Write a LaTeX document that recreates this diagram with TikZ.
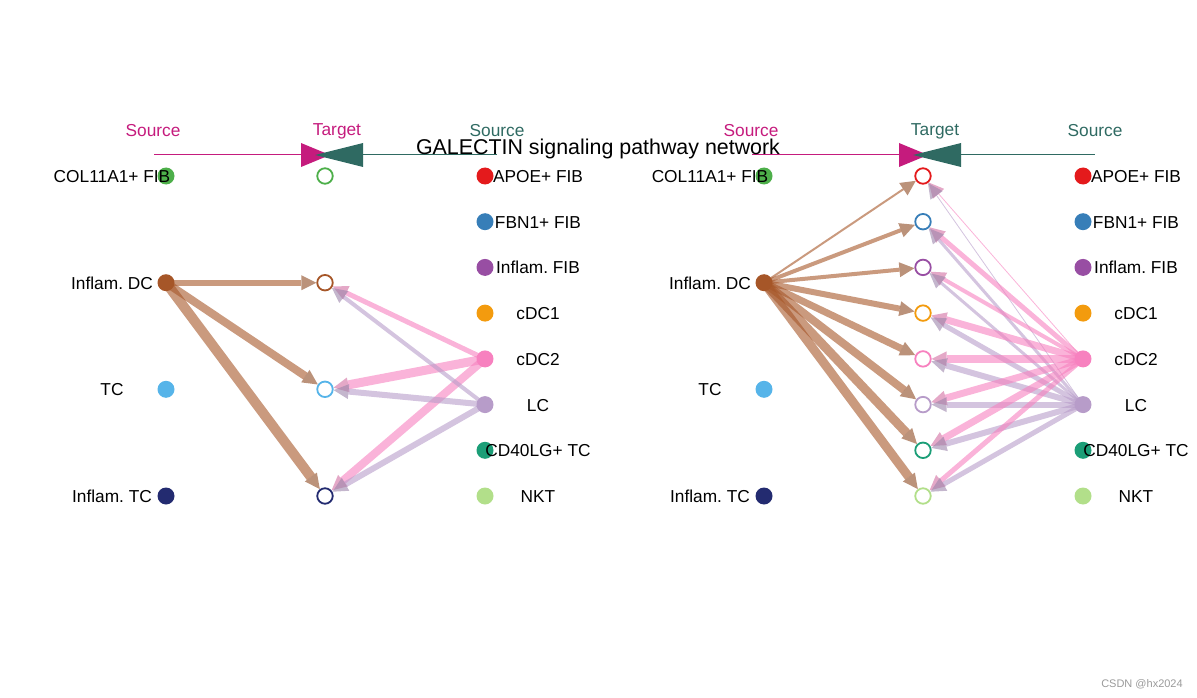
\documentclass[tikz,border=0pt]{standalone}
\usepackage{fontspec}
\setmainfont{Liberation Sans}
\usetikzlibrary{
  arrows.meta,
  backgrounds
}
\frenchspacing
\definecolor{srcmag}{HTML}{C51B7D}
\definecolor{tgtteal}{HTML}{2F6A62}
\definecolor{fibgreen}{HTML}{4DAF4A}
\definecolor{dcbrown}{HTML}{A65628}
\definecolor{tcblue}{HTML}{56B4E9}
\definecolor{itcnavy}{HTML}{232B70}
\definecolor{apoered}{HTML}{E41A1C}
\definecolor{fbnblue}{HTML}{377EB8}
\definecolor{ifibpurple}{HTML}{984EA3}
\definecolor{cdcaorange}{HTML}{F39B0E}
\definecolor{cdcbpink}{HTML}{F781BF}
\definecolor{lclilac}{HTML}{B79CC9}
\definecolor{cdgreen}{HTML}{1B9E77}
\definecolor{nktgreen}{HTML}{B2DF8A}
\definecolor{markgrey}{HTML}{9A9A9A}
% #1 name prefix, #2 colour of the Target head
\newcommand{\panelhead}[2]{%
  \draw[headline=srcmag] (154,155) -- (305,155);
  \draw[headline=tgtteal] (340,155) -- (497,155);
  \fill[srcmag] (301,143) -- (301,167) -- (330,155) -- cycle;
  \fill[tgtteal] (363,143) -- (363,167) -- (315,155) -- cycle;
  \node[headtext, text=srcmag] (#1srchead) at (153,137) {Source};
  \node[headtext, text=#2] (#1tgthead) at (337,136) {Target};
  \node[headtext, text=tgtteal] (#1rsrchead) at (497,137) {Source};
}
\tikzset{
  cell/.style={
    circle,
    fill=#1,
    minimum size=17pt,
    inner sep=0pt
  },
  tgtcell/.style={
    circle,
    draw=#1,
    fill=white,
    line width=1.8pt,
    minimum size=15.5pt,
    inner sep=0pt
  },
  celllabel/.style={
    anchor=base,
    inner sep=0pt,
    font=\fontsize{17.3}{20}\selectfont
  },
  headtext/.style={
    anchor=base,
    inner sep=0pt,
    font=\fontsize{17.3}{20}\selectfont
  },
  headline/.style={
    draw=#1,
    line width=1pt
  },
  link/.style={
    -{Triangle[length=15pt, width=15pt, line width=0pt, color=#1!85!black]},
    draw=#1,
    opacity=.6
  },
  titletext/.style={
    anchor=base,
    inner sep=0pt,
    font=\fontsize{21.4}{25}\selectfont
  },
  marktext/.style={
    font=\fontsize{11}{13}\selectfont,
    text=markgrey
  }
}

\begin{document}
\begin{tikzpicture}[x=1pt, y=-1pt]
  \useasboundingbox (0,0) rectangle (1197,698);
  % left panel
  \panelhead{L}{srcmag}
  \foreach \id/\clr/\yy/\txt in {col/fibgreen/176/COL11A1+ FIB,
      dc/dcbrown/282.7/Inflam. DC, tc/tcblue/389.3/TC,
      itc/itcnavy/496/Inflam. TC} {
    \node[cell=\clr] (L\id) at (166,\yy) {};
    \node[celllabel] (L\id-lbl) at (112,{\yy+6.5}) {\txt};
    \node[tgtcell=\clr] (LT\id) at (325,\yy) {};
  }
  \foreach \id/\clr/\yy/\txt in {apoe/apoered/176/APOE+ FIB,
      fbn/fbnblue/221.7/FBN1+ FIB, ifib/ifibpurple/267.4/Inflam. FIB,
      cdca/cdcaorange/313.1/cDC1, cdcb/cdcbpink/358.9/cDC2,
      lc/lclilac/404.6/LC, cd40/cdgreen/450.3/CD40LG+ TC,
      nkt/nktgreen/496/NKT} {
    \node[cell=\clr] (L\id) at (485,\yy) {};
    \node[celllabel] (L\id-lbl) at (538,{\yy+6.5}) {\txt};
  }
  \begin{scope}[on background layer]
    \draw[link=dcbrown, line width=6pt] (Ldc.center) -- (LTdc);
    \draw[link=dcbrown, line width=8pt] (Ldc.center) -- (LTtc);
    \draw[link=dcbrown, line width=10pt] (Ldc.center) -- (LTitc);
    \draw[link=cdcbpink, line width=5pt] (Lcdcb.center) -- (LTdc);
    \draw[link=cdcbpink, line width=9pt] (Lcdcb.center) -- (LTtc);
    \draw[link=cdcbpink, line width=8pt] (Lcdcb.center) -- (LTitc);
    \draw[link=lclilac, line width=4pt] (Llc.center) -- (LTdc);
    \draw[link=lclilac, line width=6pt] (Llc.center) -- (LTtc);
    \draw[link=lclilac, line width=6pt] (Llc.center) -- (LTitc);
  \end{scope}
  % right panel
  \begin{scope}[xshift=598pt]
    \panelhead{R}{tgtteal}
    \foreach \id/\clr/\yy/\txt in {col/fibgreen/176/COL11A1+ FIB,
        dc/dcbrown/282.7/Inflam. DC, tc/tcblue/389.3/TC,
        itc/itcnavy/496/Inflam. TC} {
      \node[cell=\clr] (R\id) at (166,\yy) {};
      \node[celllabel] (R\id-lbl) at (112,{\yy+6.5}) {\txt};
    }
    \foreach \id/\clr/\yy/\txt in {apoe/apoered/176/APOE+ FIB,
        fbn/fbnblue/221.7/FBN1+ FIB, ifib/ifibpurple/267.4/Inflam. FIB,
        cdca/cdcaorange/313.1/cDC1, cdcb/cdcbpink/358.9/cDC2,
        lc/lclilac/404.6/LC, cd40/cdgreen/450.3/CD40LG+ TC,
        nkt/nktgreen/496/NKT} {
      \node[cell=\clr] (R\id) at (485,\yy) {};
      \node[celllabel] (R\id-lbl) at (538,{\yy+6.5}) {\txt};
      \node[tgtcell=\clr] (RT\id) at (325,\yy) {};
    }
    \begin{scope}[on background layer]
      \foreach \id/\wa/\wb/\wc in {apoe/2pt/0.8pt/0.8pt, fbn/4pt/5pt/3pt,
          ifib/4pt/4pt/3pt, cdca/6pt/7pt/5pt, cdcb/7pt/8pt/6pt,
          lc/8pt/7pt/6pt, cd40/9pt/7pt/6pt, nkt/9pt/5pt/5pt} {
        \draw[link=dcbrown, line width=\wa] (Rdc.center) -- (RT\id);
        \draw[link=cdcbpink, line width=\wb] (Rcdcb.center) -- (RT\id);
        \draw[link=lclilac, line width=\wc] (Rlc.center) -- (RT\id);
      }
    \end{scope}
  \end{scope}
  \node[titletext] (title) at (598,154) {GALECTIN signaling pathway network};
  \node[marktext] (mark) at (1142,684) {CSDN @hx2024};
\end{tikzpicture}
\end{document}
